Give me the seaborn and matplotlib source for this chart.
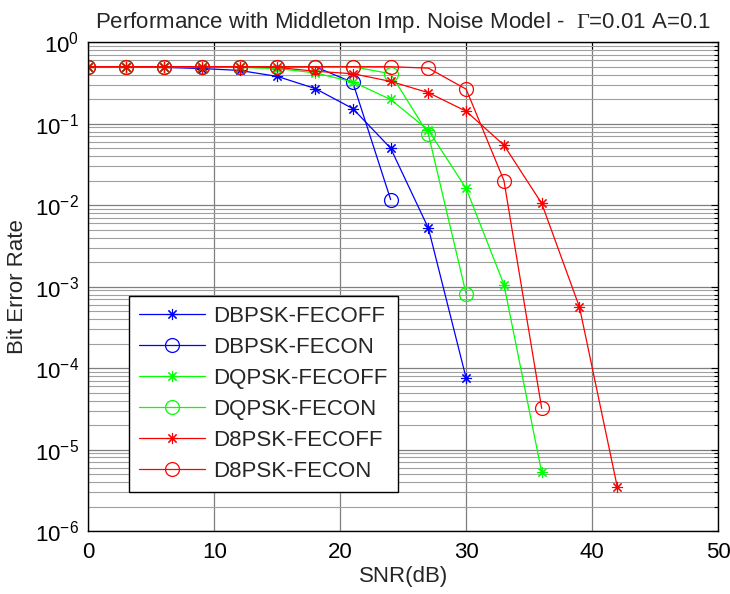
import numpy as np
import pandas as pd
import matplotlib
matplotlib.use("Agg")
import matplotlib.pyplot as plt
import seaborn as sns
from matplotlib.ticker import FixedLocator, NullFormatter

# ---------------- data ----------------
snr_dbpsk_off = [0, 3, 6, 9, 12, 15, 18, 21, 24, 27, 30]
ber_dbpsk_off = [0.5, 0.5, 0.49, 0.475, 0.45, 0.38, 0.27, 0.153, 0.05, 0.0052, 7.5e-5]

snr_dbpsk_on = [0, 3, 6, 9, 12, 15, 18, 21, 24]
ber_dbpsk_on = [0.5, 0.5, 0.5, 0.5, 0.5, 0.5, 0.5, 0.32, 0.0117]

snr_dqpsk_off = [0, 3, 6, 9, 12, 15, 18, 21, 24, 27, 30, 33, 36]
ber_dqpsk_off = [0.5, 0.5, 0.5, 0.5, 0.49, 0.475, 0.42, 0.326, 0.198, 0.083, 0.016, 0.00106, 5.25e-6]

snr_dqpsk_on = [0, 3, 6, 9, 12, 15, 18, 21, 24, 27, 30]
ber_dqpsk_on = [0.5, 0.5, 0.5, 0.5, 0.5, 0.5, 0.5, 0.5, 0.41, 0.074, 8.1e-4]

snr_d8psk_off = [0, 3, 6, 9, 12, 15, 18, 21, 24, 27, 30, 33, 36, 39, 42]
ber_d8psk_off = [0.5, 0.5, 0.5, 0.5, 0.5, 0.49, 0.44, 0.41, 0.33, 0.24, 0.142, 0.0545, 0.0105, 5.6e-4, 3.5e-6]

snr_d8psk_on = [0, 3, 6, 9, 12, 15, 18, 21, 24, 27, 30, 33, 36]
ber_d8psk_on = [0.5, 0.5, 0.5, 0.5, 0.5, 0.5, 0.5, 0.5, 0.5, 0.48, 0.265, 0.020, 3.2e-5]

series_labels = ["DBPSK-FECOFF", "DBPSK-FECON", "DQPSK-FECOFF",
                 "DQPSK-FECON", "D8PSK-FECOFF", "D8PSK-FECON"]
x_ticks = [0, 10, 20, 30, 40, 50]
y_exponents = [-6, -5, -4, -3, -2, -1, 0]
y_tick_labels = [r"$10^{%d}$" % e for e in y_exponents]

title_text = r"Performance with Middleton Imp. Noise Model -  $\mathsf{\Gamma}$=0.01 A=0.1"
x_label = "SNR(dB)"
y_label = "Bit Error Rate"

# ---------------- style ----------------
sns.set_style("white")
plt.rcParams["font.family"] = ["Liberation Sans", "DejaVu Sans"]
plt.rcParams["mathtext.fontset"] = "custom"
plt.rcParams["mathtext.rm"] = "Liberation Sans"
plt.rcParams["mathtext.it"] = "Liberation Sans:italic"
plt.rcParams["mathtext.sf"] = "Liberation Serif"
FS = 16

fig = plt.figure(figsize=(7.30, 5.94), dpi=100)
ax = fig.add_axes([0.1212, 0.106, 0.8623, 0.823])

frames = [
    (snr_dbpsk_off, ber_dbpsk_off, "#0000ff", "star"),
    (snr_dbpsk_on, ber_dbpsk_on, "#0000ff", "circle"),
    (snr_dqpsk_off, ber_dqpsk_off, "#00ff00", "star"),
    (snr_dqpsk_on, ber_dqpsk_on, "#00ff00", "circle"),
    (snr_d8psk_off, ber_d8psk_off, "#ff0000", "star"),
    (snr_d8psk_on, ber_d8psk_on, "#ff0000", "circle"),
]

for (xs, ys, col, mk), lab in zip(frames, series_labels):
    df = pd.DataFrame({"snr": xs, "ber": ys})
    if mk == "star":
        kw = dict(marker=(8, 2, 0), markersize=8, markeredgewidth=0.8,
                  markeredgecolor=col)
    else:
        kw = dict(marker="o", markersize=10, markerfacecolor="none",
                  markeredgecolor=col, markeredgewidth=0.9)
    sns.lineplot(data=df, x="snr", y="ber", ax=ax, color=col, linewidth=0.9,
                 label=lab, estimator=None, sort=False, **kw)

ax.set_yscale("log")
ax.set_xlim(0, 50)
ax.set_ylim(1e-6, 1)
ax.xaxis.set_major_locator(FixedLocator(x_ticks))
ax.set_xticklabels([str(t) for t in x_ticks])
ax.yaxis.set_major_locator(FixedLocator([10.0 ** e for e in y_exponents]))
ax.set_yticklabels(y_tick_labels)
minor_vals = [m * 10.0 ** e for e in y_exponents[:-1] for m in range(2, 10)]
ax.yaxis.set_minor_locator(FixedLocator(minor_vals))
ax.yaxis.set_minor_formatter(NullFormatter())
ax.xaxis.set_minor_formatter(NullFormatter())

ax.grid(True, which="major", axis="both", color="#7f7f7f", linewidth=0.9)
ax.grid(True, which="minor", axis="y", color="#a0a0a0", linewidth=0.8)
ax.set_axisbelow(True)

ax.tick_params(which="both", direction="in", top=True, right=True,
               labelsize=FS, colors="black")
ax.tick_params(which="major", length=5, width=0.8)
ax.tick_params(which="minor", length=3, width=0.8)
ax.tick_params(axis="x", pad=8)
ax.tick_params(axis="y", pad=7)
for sp in ax.spines.values():
    sp.set_color("black")
    sp.set_linewidth(1.0)

ax.set_title(title_text, fontsize=FS, pad=10)
ax.set_xlabel(x_label, fontsize=FS, labelpad=2)
ax.set_ylabel(y_label, fontsize=FS, labelpad=5)

leg = ax.legend(loc="lower left", bbox_to_anchor=(0.064, 0.080),
                fontsize=FS, frameon=True, fancybox=False, edgecolor="black",
                framealpha=1, handlelength=3.0, handletextpad=0.36,
                labelspacing=0.45, borderpad=0.45, numpoints=1,
                borderaxespad=0)
leg.get_frame().set_linewidth(1.0)

fig.savefig("out.png", dpi=100, facecolor="white")
